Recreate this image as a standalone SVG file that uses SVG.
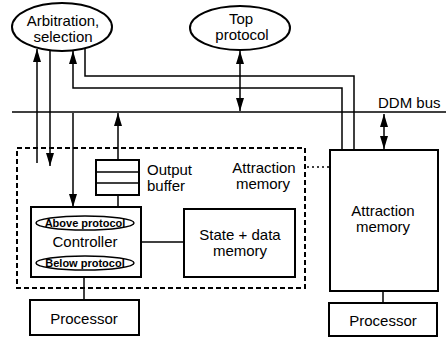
<svg xmlns="http://www.w3.org/2000/svg" width="446" height="339" viewBox="0 0 446 339">
<style>
.ln{stroke:#000;stroke-width:1.5;fill:none}
.bx{fill:#fff;stroke:#000;stroke-width:2}
.t{font-family:"Liberation Sans",Arial,sans-serif;font-size:15px;fill:#000;text-anchor:middle}
.s{font-size:11px;font-weight:bold}
.st{text-anchor:start}
</style>
<defs>
<marker id="ah" viewBox="0 0 13 8" refX="13" refY="4" markerWidth="13" markerHeight="8" markerUnits="userSpaceOnUse" orient="auto-start-reverse"><path d="M0,0 L13,4 L0,8 z" fill="#000"/></marker>
</defs>
<rect width="446" height="339" fill="#fff"/>
<g id="dashed-box">
<rect x="17" y="148" width="288" height="140" fill="none" stroke="#000" stroke-width="2" stroke-dasharray="5,3"/>
<text class="t" x="264" y="173">Attraction</text>
<text class="t" x="263" y="189">memory</text>
</g>
<g id="connectors">
<path class="ln" d="M12,112 H446" stroke-width="2.5"/>
<path class="ln" d="M37,163 V49" marker-end="url(#ah)"/>
<path class="ln" d="M50,51 V166" marker-end="url(#ah)"/>
<path class="ln" d="M342,172 V88 H73 V51" marker-end="url(#ah)"/>
<path class="ln" d="M85,48 V76 H354 V166" marker-end="url(#ah)"/>
<path class="ln" d="M73,113 V207" marker-end="url(#ah)"/>
<path class="ln" d="M240,51 V111" marker-start="url(#ah)" marker-end="url(#ah)"/>
<path class="ln" d="M118,160 V113" marker-end="url(#ah)"/>
<path class="ln" d="M118,195 V207"/>
<path class="ln" d="M141,242 H184"/>
<path class="ln" d="M84,277 V300"/>
<path class="ln" d="M384,114 V149" marker-start="url(#ah)" marker-end="url(#ah)"/>
<path class="ln" d="M383,291 V303"/>
<path class="ln" d="M307,167 H329" stroke-width="2" stroke-dasharray="2,3"/>
</g>
<g id="arbitration">
<ellipse cx="62" cy="27" rx="50" ry="24" class="bx"/>
<text class="t" x="63" y="26">Arbitration,</text>
<text class="t" x="63" y="42">selection</text>
</g>
<g id="top-protocol">
<ellipse cx="240" cy="28" rx="50" ry="22" class="bx"/>
<text class="t" x="241" y="24">Top</text>
<text class="t" x="242" y="40">protocol</text>
</g>
<text class="t st" x="378" y="108">DDM bus</text>
<g id="output-buffer">
<rect x="96" y="160" width="43" height="35" class="bx"/>
<path class="ln" d="M96,172 H139 M96,183 H139" stroke-width="2"/>
<text class="t st" x="147" y="175">Output</text>
<text class="t st" x="147" y="191">buffer</text>
</g>
<g id="controller">
<rect x="31" y="207" width="110" height="70" class="bx"/>
<ellipse cx="85" cy="223" rx="49" ry="7" fill="none" stroke="#000" stroke-width="1.5"/>
<text class="t s" x="85" y="227">Above protocol</text>
<text class="t" x="85" y="247">Controller</text>
<ellipse cx="85" cy="263" rx="49" ry="7" fill="none" stroke="#000" stroke-width="1.5"/>
<text class="t s" x="85" y="267">Below protocol</text>
</g>
<g id="state-memory">
<rect x="184" y="209" width="111" height="68" class="bx"/>
<text class="t" x="240" y="240">State + data</text>
<text class="t" x="240" y="256">memory</text>
</g>
<g id="attraction-memory">
<rect x="330" y="150" width="108" height="141" class="bx"/>
<text class="t" x="383" y="216">Attraction</text>
<text class="t" x="383" y="232">memory</text>
</g>
<g id="processor-left">
<rect x="30" y="300" width="109" height="35" class="bx"/>
<text class="t" x="84" y="324">Processor</text>
</g>
<g id="processor-right">
<rect x="329" y="303" width="108" height="33" class="bx"/>
<text class="t" x="383" y="326">Processor</text>
</g>
</svg>
